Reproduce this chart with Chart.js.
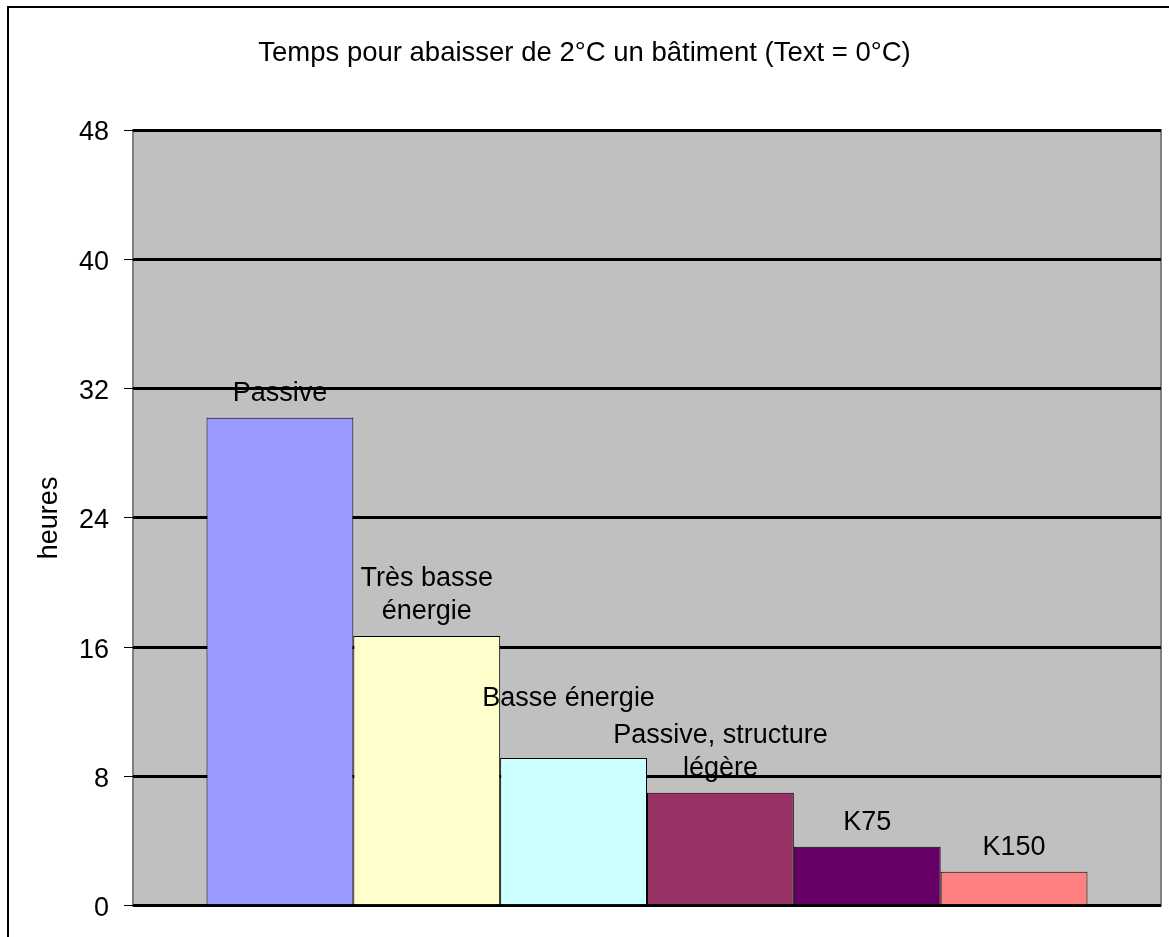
<!DOCTYPE html>
<html>
<head>
<meta charset="utf-8">
<script src="https://cdn.jsdelivr.net/npm/chart.js@4.4.0/dist/chart.umd.min.js"></script>
<style>
  html, body { margin: 0; padding: 0; background: #fff; }
  #wrap { width: 1169px; height: 937px; position: relative; }
</style>
</head>
<body>
<div id="wrap"><canvas id="chart"></canvas></div>
<script>
// Series (one bar each, Excel style)
const seriesNames = [['Passive'], ['Très basse', 'énergie'], ['Basse énergie'], ['Passive, structure', 'légère'], ['K75'], ['K150']];
const seriesValues = [30.2, 16.7, 9.15, 7.0, 3.65, 2.1];
const seriesColors = ['#9999FF', '#FFFFCC', '#CCFFFF', '#993366', '#660066', '#FF8080'];
const yTicks = [0, 8, 16, 24, 32, 40, 48];

const FONT = '"Liberation Sans", Arial, sans-serif';

// white page + outer frame + grey plot area
const backdrop = {
  id: 'backdrop',
  beforeDraw(chart) {
    const { ctx, chartArea: a } = chart;
    ctx.save();
    ctx.fillStyle = '#fff';
    ctx.fillRect(0, 0, chart.width, chart.height);
    ctx.strokeStyle = '#000';
    ctx.lineWidth = 2;
    ctx.strokeRect(8, 7, chart.width + 20, chart.height + 20);
    ctx.fillStyle = '#C0C0C0';
    ctx.fillRect(a.left, a.top, a.right - a.left, a.bottom - a.top);
    ctx.strokeStyle = '#808080';
    ctx.lineWidth = 2;
    ctx.strokeRect(a.left, a.top, a.right - a.left, a.bottom - a.top);
    ctx.restore();
  }
};

// series name above each bar; "Basse énergie" was nudged up in the original to clear its neighbour
const labelNudge = { 2: { dx: -5, dy: -35 } };
const barLabels = {
  id: 'barLabels',
  afterDatasetsDraw(chart) {
    const { ctx } = chart;
    ctx.save();
    ctx.font = '27px ' + FONT;
    ctx.fillStyle = '#000';
    ctx.textAlign = 'center';
    ctx.textBaseline = 'alphabetic';
    chart.data.datasets.forEach((ds, i) => {
      const bar = chart.getDatasetMeta(i).data[0];
      const lines = seriesNames[i];
      const n = labelNudge[i] || { dx: 0, dy: 0 };
      lines.forEach((ln, j) => {
        const y = bar.y - 17 - (lines.length - 1 - j) * 33 + n.dy;
        ctx.fillText(ln, bar.x + n.dx, y);
      });
    });
    ctx.restore();
  }
};

new Chart(document.getElementById('chart'), {
  type: 'bar',
  data: {
    labels: [''],
    datasets: seriesValues.map((v, i) => ({
      label: seriesNames[i].join(' '),
      data: [v],
      backgroundColor: seriesColors[i],
      borderColor: '#000',
      borderWidth: 1,
      categoryPercentage: 0.857,
      barPercentage: 1
    }))
  },
  options: {
    responsive: true,
    maintainAspectRatio: false,
    animation: false,
    layout: { padding: { left: 8, right: 8, bottom: 31, top: 0 } },
    plugins: {
      legend: { display: false },
      tooltip: { enabled: false },
      title: {
        display: true,
        text: 'Temps pour abaisser de 2°C un bâtiment (Text = 0°C)',
        color: '#000',
        font: { family: FONT, size: 27.5, weight: 'normal', lineHeight: 1.2 },
        padding: { top: 37, bottom: 60 }
      }
    },
    scales: {
      x: { display: false },
      y: {
        min: 0,
        max: 48,
        afterBuildTicks(scale) { scale.ticks = yTicks.map(v => ({ value: v })); },
        afterFit(scale) { scale.width = 125; },
        border: { display: false },
        grid: {
          color: '#000',
          lineWidth: 3,
          tickColor: '#000',
          tickWidth: 1,
          tickLength: 9
        },
        ticks: {
          color: '#000',
          padding: 15,
          labelOffset: 3,
          font: { family: FONT, size: 27 }
        },
        title: {
          display: true,
          text: 'heures',
          color: '#000',
          font: { family: FONT, size: 27, lineHeight: 1.2 },
          padding: { top: 25, bottom: 0 }
        }
      }
    }
  },
  plugins: [backdrop, barLabels]
});
</script>
</body>
</html>
